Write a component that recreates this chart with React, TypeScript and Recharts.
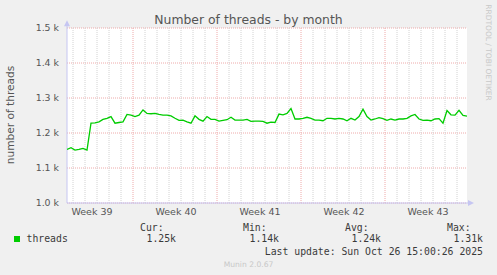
import React from 'react';
import {
  LineChart,
  Line,
  XAxis,
  YAxis,
  CartesianGrid,
  ReferenceLine,
  ReferenceDot,
} from 'recharts';

// ---- data ----
const sampleStepHours = 8; // one sample every 8 hours
const threads = [
  1153, 1158, 1151, 1153, 1156, 1151, 1228, 1229, 1232, 1239,
  1242, 1247, 1228, 1230, 1232, 1253, 1251, 1247, 1251, 1266,
  1256, 1255, 1256, 1253, 1251, 1251, 1249, 1242, 1236, 1237,
  1232, 1228, 1249, 1239, 1234, 1247, 1239, 1239, 1234, 1236,
  1238, 1245, 1237, 1237, 1237, 1239, 1233, 1234, 1234, 1233,
  1228, 1231, 1230, 1254, 1252, 1256, 1270, 1240, 1240, 1242,
  1245, 1242, 1237, 1237, 1235, 1242, 1242, 1240, 1242, 1240,
  1235, 1242, 1237, 1247, 1268, 1247, 1237, 1240, 1244, 1241,
  1236, 1240, 1237, 1240, 1240, 1242, 1249, 1253, 1240, 1236,
  1237, 1235, 1240, 1241, 1228, 1264, 1252, 1251, 1265, 1250,
  1248,
];
const yTicks = [1000, 1100, 1200, 1300, 1400, 1500];
const weekLabels = ['Week 39', 'Week 40', 'Week 41', 'Week 42', 'Week 43'];
const weekLabelHours = [50, 218, 386, 554, 722];
const dayLineHours = [
  12, 36, 60, 84, 108, 156, 180, 204, 228, 252, 276, 324, 348, 372, 396, 420,
  444, 492, 516, 540, 564, 588, 612, 660, 684, 708, 732, 756, 780,
];
const weekLineHours = [132, 300, 468, 636];
const statLabels = ['Cur:', 'Min:', 'Avg:', 'Max:'];
const statValues = ['1.25k', '1.14k', '1.24k', '1.31k'];
const statLefts = [140, 243, 345, 447];
const seriesName = 'threads';
const title = 'Number of threads - by month';
const yLabel = 'number of threads';
const lastUpdate = 'Last update: Sun Oct 26 15:00:26 2025';
const version = 'Munin 2.0.67';
const watermark = 'RRDTOOL / TOBI OETIKER';

const data = threads.map((v, i) => ({ t: i * sampleStepHours, v }));

const AXIS = '#c6c6f2';
const SANS = '"DejaVu Sans", sans-serif';
const MONO = '"DejaVu Sans Mono", monospace';

const RightArrow = (props: any) => {
  const { cx, cy } = props;
  return <path d={`M${cx - 2},${cy - 3} L${cx + 4},${cy} L${cx - 2},${cy + 3} Z`} fill={AXIS} />;
};
const UpArrow = (props: any) => {
  const { cx, cy } = props;
  return <path d={`M${cx - 3},${cy + 2} L${cx},${cy - 4} L${cx + 3},${cy + 2} Z`} fill={AXIS} />;
};

export default function App() {
  const mono: React.CSSProperties = {
    position: 'absolute',
    fontFamily: MONO,
    fontSize: 9.8,
    lineHeight: '10px',
    color: '#3a3a3a',
    whiteSpace: 'pre',
  };
  return (
    <div
      style={{
        position: 'absolute',
        left: 0,
        top: 0,
        width: 497,
        height: 275,
        background: '#F0F0F0',
        overflow: 'hidden',
      }}
    >
      <LineChart
        width={497}
        height={275}
        data={data}
        margin={{ top: 28, right: 30, bottom: 42, left: 7 }}
        style={{ position: 'absolute', left: 0, top: 0 }}
      >
        <CartesianGrid
          vertical={false}
          fill="#ffffff"
          stroke="#eeaaaa"
          strokeDasharray="1 1"
        />
        <XAxis
          dataKey="t"
          type="number"
          domain={[0, 800]}
          allowDataOverflow
          ticks={weekLabelHours}
          tickFormatter={(v: number) => weekLabels[weekLabelHours.indexOf(v)] ?? ''}
          axisLine={false}
          tickLine={false}
          tickSize={5}
          tickMargin={0}
          height={30}
          tick={{ fill: '#555', fontSize: 9.5, fontFamily: SANS }}
        />
        <YAxis
          type="number"
          domain={[1000, 1500]}
          allowDataOverflow
          ticks={yTicks}
          width={60}
          axisLine={false}
          tickLine={false}
          tickFormatter={(v: number) => `${(v / 1000).toFixed(1)} k`}
          tick={{ fill: '#555', fontSize: 9.4, fontFamily: SANS }}
        />
        {dayLineHours.map((h) => (
          <ReferenceLine key={`d${h}`} x={h} stroke="#d2d2d2" strokeDasharray="1 1" />
        ))}
        {weekLineHours.map((h) => (
          <ReferenceLine key={`w${h}`} x={h} stroke="#eeaaaa" strokeDasharray="1 1" />
        ))}
        <ReferenceLine
          segment={[{ x: 0, y: 1000 }, { x: 806, y: 1000 }]}
          stroke={AXIS}
          ifOverflow="visible"
        />
        <ReferenceLine
          segment={[{ x: 0, y: 1000 }, { x: 0, y: 1511 }]}
          stroke={AXIS}
          ifOverflow="visible"
        />
        <ReferenceDot x={806} y={1000} r={3} ifOverflow="visible" shape={RightArrow} />
        <ReferenceDot x={0} y={1511} r={3} ifOverflow="visible" shape={UpArrow} />
        <Line
          type="linear"
          dataKey="v"
          stroke="#00cc00"
          strokeWidth={1.3}
          dot={false}
          isAnimationActive={false}
        />
      </LineChart>

      <div
        style={{
          position: 'absolute',
          left: 0,
          width: 497,
          top: 12.5,
          textAlign: 'center',
          fontFamily: SANS,
          fontSize: 12.4,
          lineHeight: '13px',
          color: '#555',
        }}
      >
        {title}
      </div>

      <div
        style={{
          position: 'absolute',
          left: 10 - 60,
          top: 115 - 6,
          width: 120,
          textAlign: 'center',
          fontFamily: SANS,
          fontSize: 10.6,
          lineHeight: '12px',
          color: '#555',
          transform: 'rotate(-90deg)',
          whiteSpace: 'nowrap',
        }}
      >
        {yLabel}
      </div>

      <div
        style={{
          position: 'absolute',
          left: 488 - 60,
          top: 53 - 5,
          width: 120,
          textAlign: 'center',
          fontFamily: SANS,
          fontSize: 7.5,
          lineHeight: '9px',
          color: '#c8c8c8',
          transform: 'rotate(90deg)',
          whiteSpace: 'nowrap',
        }}
      >
        {watermark}
      </div>

      {statLabels.map((s, i) => (
        <div key={s} style={{ ...mono, left: statLefts[i], top: 223 }}>
          {s}
        </div>
      ))}
      <div
        style={{
          position: 'absolute',
          left: 14,
          top: 236,
          width: 6,
          height: 6,
          background: '#00cc00',
        }}
      />
      <div style={{ ...mono, left: 26.5, top: 234 }}>{seriesName}</div>
      {statValues.map((s, i) => (
        <div key={s + i} style={{ ...mono, left: statLefts[i] + 6.5, top: 234 }}>
          {s}
        </div>
      ))}
      <div style={{ ...mono, right: 497 - 483, top: 246.5 }}>{lastUpdate}</div>
      <div
        style={{
          position: 'absolute',
          left: 0,
          width: 497,
          top: 260,
          textAlign: 'center',
          fontFamily: SANS,
          fontSize: 7.6,
          lineHeight: '9px',
          color: '#c8c8c8',
        }}
      >
        {version}
      </div>
    </div>
  );
}
